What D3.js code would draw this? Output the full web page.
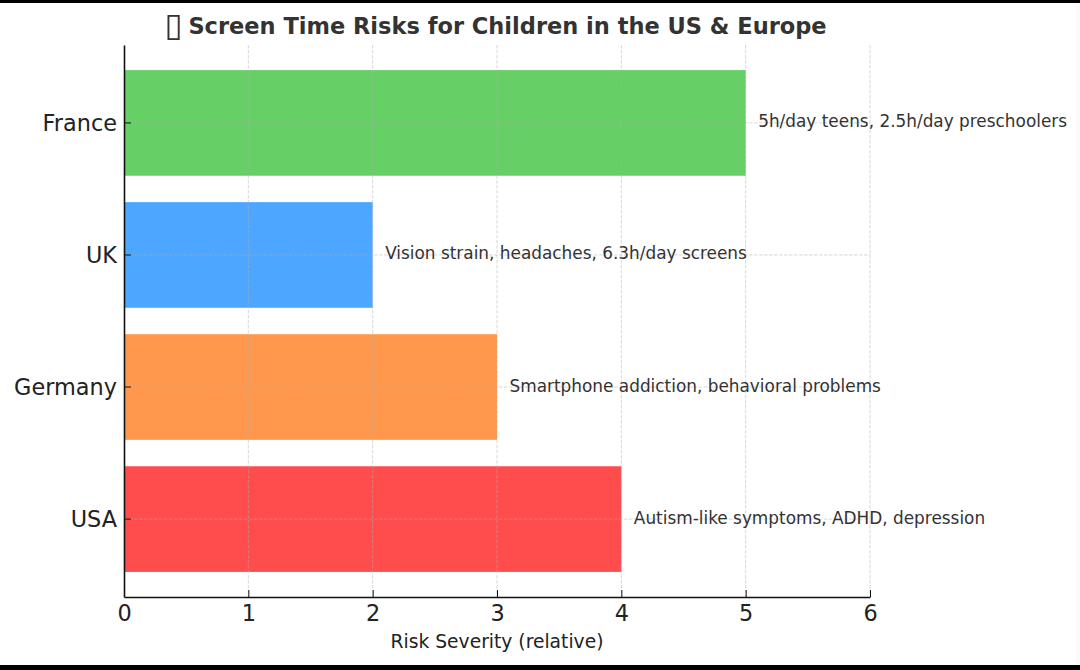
<!DOCTYPE html>
<html>
<head>
<meta charset="utf-8">
<script src="https://cdn.jsdelivr.net/npm/d3@7"></script>
<style>
  html, body { margin: 0; padding: 0; background: #fff; }
  svg { display: block; }
  text { font-family: "DejaVu Sans", sans-serif; }
</style>
</head>
<body>
<div id="vis"></div>
<script>
const countries = ["USA", "Germany", "UK", "France"];
const severity = [4, 3, 2, 5];
const barColors = ["#ff4c4c", "#ff974d", "#4da6ff", "#66cf66"];
const notes = [
  "Autism-like symptoms, ADHD, depression",
  "Smartphone addiction, behavioral problems",
  "Vision strain, headaches, 6.3h/day screens",
  "5h/day teens, 2.5h/day preschoolers"
];
const xTicks = [0, 1, 2, 3, 4, 5, 6];
const titleIcon = "\u25AF";
const titleText = " Screen Time Risks for Children in the US & Europe";
const xLabel = "Risk Severity (relative)";

const WIDTH = 1080;
const HEIGHT = 670;
const MARGIN = { top: 45, bottom: 73, right: 210, left: 124 };

const rows = countries.map((c, i) => ({ country: c, value: severity[i], color: barColors[i], note: notes[i] }));

const SVG = d3.select("#vis").append("svg").attr("width", WIDTH).attr("height", HEIGHT);

// marco de la foto: negro arriba y abajo, borde claro a la derecha
SVG.append("rect").attr("x", 1076).attr("y", 0).attr("width", 4).attr("height", HEIGHT).attr("fill", "#fafafa");
SVG.append("rect").attr("x", 0).attr("y", 0).attr("width", WIDTH).attr("height", 3).attr("fill", "#000");
SVG.append("rect").attr("x", 0).attr("y", 665).attr("width", WIDTH).attr("height", 5).attr("fill", "#000");

const escalaX = d3.scaleLinear().domain([0, 6]).range([MARGIN.left, WIDTH - MARGIN.right]);
const escalaY = d3.scaleBand()
  .domain(countries)
  .range([HEIGHT - MARGIN.bottom, MARGIN.top])
  .paddingInner(0.2)
  .paddingOuter(0.19);

// barras
SVG.append("g").selectAll("rect").data(rows).join("rect")
  .attr("x", escalaX(0))
  .attr("y", d => escalaY(d.country))
  .attr("width", d => escalaX(d.value) - escalaX(0))
  .attr("height", escalaY.bandwidth())
  .attr("fill", d => d.color);

// grilla punteada sobre las barras
const grid = SVG.append("g").attr("fill", "none").attr("stroke", "#b0b0b0")
  .attr("stroke-opacity", 0.5).attr("stroke-width", 1).attr("stroke-dasharray", "3.5 1.5");
grid.selectAll("line.v").data(xTicks.slice(1)).join("line").attr("class", "v")
  .attr("x1", d => escalaX(d)).attr("x2", d => escalaX(d))
  .attr("y1", MARGIN.top).attr("y2", HEIGHT - MARGIN.bottom);
grid.selectAll("line.h").data(countries).join("line").attr("class", "h")
  .attr("x1", escalaX(0)).attr("x2", escalaX(6))
  .attr("y1", d => escalaY(d) + escalaY.bandwidth() / 2)
  .attr("y2", d => escalaY(d) + escalaY.bandwidth() / 2);

// ejes
const ejeX = d3.axisBottom(escalaX).tickValues(xTicks).tickFormat(d3.format("d"))
  .tickSize(-7).tickSizeOuter(0).tickPadding(8.5);
const gx = SVG.append("g").attr("transform", `translate(0 ${HEIGHT - MARGIN.bottom})`).call(ejeX);
const ejeY = d3.axisLeft(escalaY).tickSize(-7).tickSizeOuter(0).tickPadding(7);
const gy = SVG.append("g").attr("transform", `translate(${MARGIN.left} 0)`).call(ejeY);

[gx, gy].forEach(g => {
  g.select(".domain").attr("stroke", "#111").attr("stroke-width", 1.6);
  g.selectAll("line").attr("stroke", "#111").attr("stroke-width", 1);
  g.selectAll("text").attr("font-family", "DejaVu Sans").attr("font-size", 22.4).attr("fill", "#222");
});
gy.selectAll("text").attr("dy", "0.37em");

// anotaciones
SVG.append("g").selectAll("text").data(rows).join("text")
  .attr("x", d => escalaX(d.value) + 12.5)
  .attr("y", d => escalaY(d.country) + escalaY.bandwidth() / 2 - 0.5)
  .attr("dominant-baseline", "middle")
  .attr("font-size", 16.9)
  .attr("fill", "#333")
  .text(d => d.note);

SVG.append("text")
  .attr("x", 497).attr("y", 648)
  .attr("text-anchor", "middle")
  .attr("font-size", 18.7)
  .attr("fill", "#222")
  .text(xLabel);

const titulo = SVG.append("text")
  .attr("x", 495.5).attr("y", 34)
  .attr("text-anchor", "middle")
  .attr("font-size", 22.5)
  .attr("font-weight", "bold")
  .attr("fill", "#333");
titulo.append("tspan").attr("font-size", 33).attr("font-weight", "normal").attr("dy", 2).text(titleIcon);
titulo.append("tspan").attr("dx", -2).attr("dy", -2).text(titleText);
</script>
</body>
</html>
